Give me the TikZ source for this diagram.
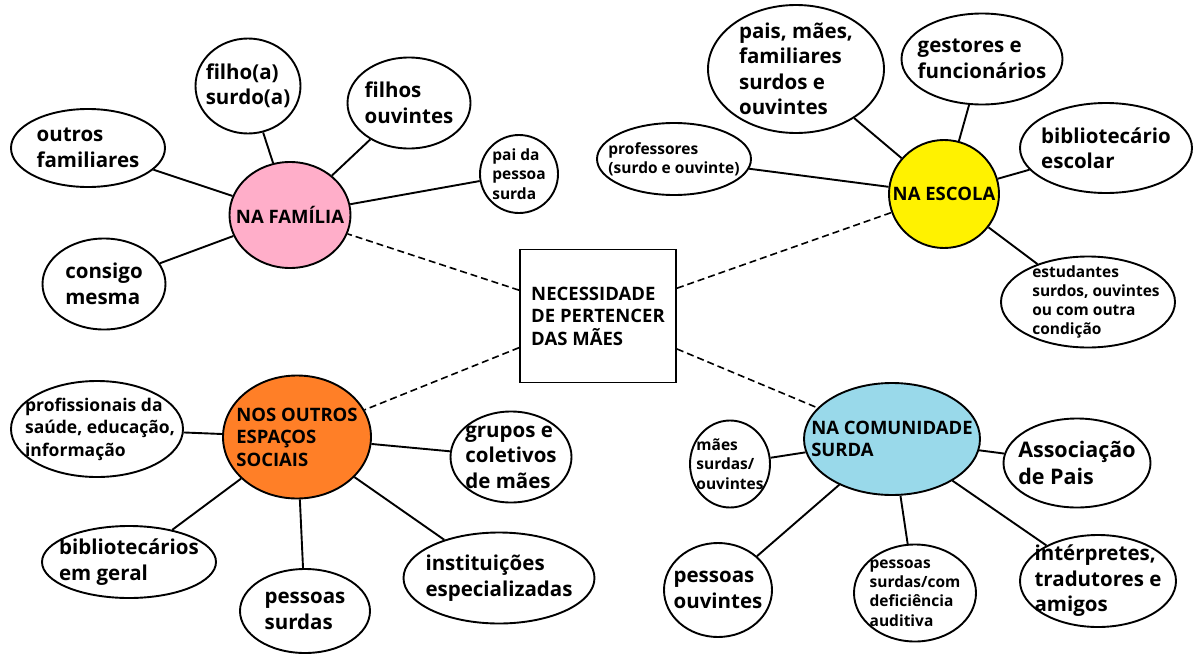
\documentclass[tikz,border=0pt]{standalone}
\usepackage{fontspec}
\setmainfont{Open Sans}
\usetikzlibrary{shapes.geometric}

\definecolor{famrosa}{HTML}{FFAEC9}
\definecolor{escamarelo}{HTML}{FFF200}
\definecolor{outlaranja}{HTML}{FF7F27}
\definecolor{comazul}{HTML}{99D9EA}

\tikzset{
  bub/.style={ellipse, draw, line width=1.9pt, fill=white, inner sep=0pt},
  txtbig/.style={font=\fontsize{20.5}{25.5}\selectfont\bfseries, align=left},
  txthuge/.style={font=\fontsize{21.5}{27}\selectfont\bfseries, align=left},
  txthub/.style={font=\fontsize{18.5}{22.5}\selectfont\bfseries, align=left},
  txtmid/.style={font=\fontsize{17.5}{22.5}\selectfont\bfseries, align=left},
  txtsml/.style={font=\fontsize{15.5}{19.3}\selectfont\bfseries, align=left},
  link/.style={line width=1.9pt},
  dlink/.style={line width=1.6pt, dash pattern=on 7pt off 4pt}
}

\begin{document}
\begin{tikzpicture}[x=1pt, y=-1pt]
      \useasboundingbox (0,0) rectangle (1195,656);
      % centro
      \node (nec) at (598,316) [draw, line width=1.9pt, minimum width=156pt, minimum height=133pt, txthub] {NECESSIDADE\\DE PERTENCER\\DAS MÃES};
      % os quatro espacos
      \node (fam) at (290,215) [bub, fill=famrosa, minimum width=121pt, minimum height=106pt, label={[txthub]center:NA FAMÍLIA}] {};
      \node (esc) at (944,194) [bub, fill=escamarelo, minimum width=110pt, minimum height=108pt, label={[txthub]center:NA ESCOLA}] {};
      \node (outr) at (297,437) [bub, fill=outlaranja, minimum width=148pt, minimum height=123pt, label={[txthub]center:NOS OUTROS\\ESPAÇOS\\SOCIAIS}] {};
      \node (com) at (892,439) [bub, fill=comazul, minimum width=176pt, minimum height=112pt, label={[txthub]center:NA COMUNIDADE\\SURDA}] {};
      % familia
      \node (outrosfam) at (88,148) [bub, minimum width=154pt, minimum height=78pt, label={[txtbig]center:outros\\familiares}] {};
      \node (filhosurdo) at (248,86) [bub, minimum width=105pt, minimum height=95pt, label={[txtbig]center:filho(a)\\surdo(a)}] {};
      \node (filhosouv) at (409,103) [bub, minimum width=123pt, minimum height=91pt, label={[txtbig]center:filhos\\ouvintes}] {};
      \node (pai) at (519,174) [bub, minimum width=78pt, minimum height=78pt, label={[txtsml]center:pai da\\pessoa\\surda}] {};
      \node (consigo) at (104,284) [bub, minimum width=123pt, minimum height=91pt, label={[txtbig]center:consigo\\mesma}] {};
      % escola
      \node (pais) at (796,69) [bub, minimum width=176pt, minimum height=128pt, label={[txtbig]center:pais, mães,\\familiares\\surdos e\\ouvintes}] {};
      \node (gestores) at (982,59) [bub, minimum width=161pt, minimum height=91pt, label={[txtbig]center:gestores e\\funcionários}] {};
      \node (biblesc) at (1106,148) [bub, minimum width=172pt, minimum height=90pt, label={[txtbig]center:bibliotecário\\escolar}] {};
      \node (prof) at (674,159) [bub, minimum width=154pt, minimum height=72pt, label={[txtsml]center:professores\\(surdo e ouvinte)}] {};
      \node (estud) at (1088,302) [bub, minimum width=174pt, minimum height=91pt, label={[txtsml, xshift=8pt]center:estudantes\\surdos, ouvintes\\ou com outra\\condição}] {};
      % outros espacos
      \node (profis) at (97,429) [bub, minimum width=172pt, minimum height=96pt, label={[txtmid, xshift=3pt]center:profissionais da\\saúde, educação,\\informação}] {};
      \node (grupos) at (511,457) [bub, minimum width=121pt, minimum height=91pt, label={[txtbig]center:grupos e\\coletivos\\de mães}] {};
      \node (biblger) at (129,562) [bub, minimum width=174pt, minimum height=72pt, label={[txtbig]center:bibliotecários\\em geral}] {};
      \node (pessurdas) at (305,611) [bub, minimum width=130pt, minimum height=84pt, label={[txtbig]center:pessoas\\surdas}] {};
      \node (instit) at (499,578) [bub, minimum width=191pt, minimum height=91pt, label={[txtbig]center:instituições\\especializadas}] {};
      % comunidade surda
      \node (maes) at (730,464) [bub, minimum width=80pt, minimum height=87pt, label={[txtsml]center:mães\\surdas/\\ouvintes}] {};
      \node (assoc) at (1077,463) [bub, minimum width=147pt, minimum height=89pt, label={[txthuge]center:Associação\\de Pais}] {};
      \node (pesouv) at (718,590) [bub, minimum width=108pt, minimum height=94pt, label={[txtbig]center:pessoas\\ouvintes}] {};
      \node (pessurdcom) at (915,593) [bub, minimum width=122pt, minimum height=97pt, label={[txtsml]center:pessoas\\surdas/com\\deficiência\\auditiva}] {};
      \node (interp) at (1098,581) [bub, minimum width=156pt, minimum height=92pt, label={[txtbig]center:intérpretes,\\tradutores e\\amigos}] {};
      % ligacoes
      \draw [dlink] (nec) to (fam);
      \draw [dlink] (nec) to (esc);
      \draw [dlink] (nec) to (outr);
      \draw [dlink] (nec) to (com);
      \foreach \a in {outrosfam, filhosurdo, filhosouv, pai, consigo}
        \draw [link] (fam) to (\a);
      \foreach \a in {pais, gestores, biblesc, prof, estud}
        \draw [link] (esc) to (\a);
      \foreach \a in {profis, grupos, biblger, pessurdas, instit}
        \draw [link] (outr) to (\a);
      \foreach \a in {maes, assoc, pesouv, pessurdcom, interp}
        \draw [link] (com) to (\a);
\end{tikzpicture}
\end{document}
